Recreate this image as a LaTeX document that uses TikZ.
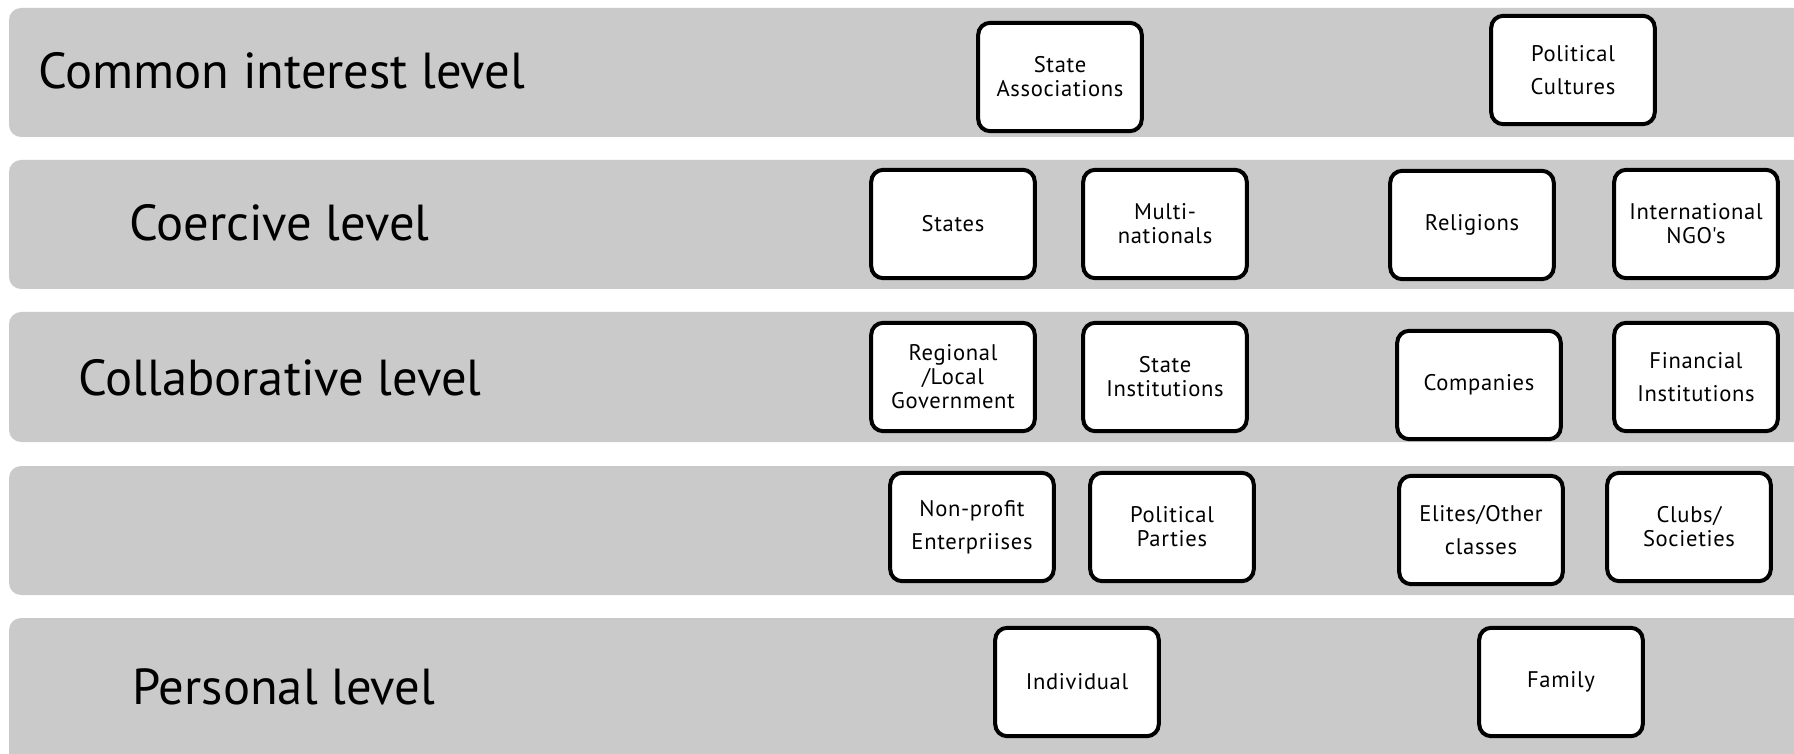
\documentclass[tikz,border=0pt]{standalone}
\usepackage{fontspec}
\setmainfont{PT Sans}
\newfontfamily\boxfont[LetterSpace=3]{PT Sans}
\definecolor{bandgray}{RGB}{202,202,202}
\begin{document}
\begin{tikzpicture}[x=0.5pt,y=-0.5pt,
  band/.style={fill=bandgray, rounded corners=6pt},
  item/.style={draw=black, line width=2pt, fill=white, rounded corners=6pt,
    minimum width=81.8pt, minimum height=54.2pt, align=center, inner sep=0pt,
    font=\boxfont\fontsize{11.3}{12}\selectfont},
  loose/.style={font=\boxfont\fontsize{11.3}{16.5}\selectfont},
  lvl/.style={anchor=base west, inner sep=0pt, font=\fontsize{25.3}{30}\selectfont}]
\useasboundingbox (0,0) rectangle (1794,754);
\clip (0,0) rectangle (1794,754);
% bands
\fill[band] (9,8) rectangle (1830,137);
\fill[band] (9,160) rectangle (1830,289);
\fill[band] (9,312) rectangle (1830,442);
\fill[band] (9,466) rectangle (1830,595);
\fill[band] (9,618) rectangle (1830,790);
% level labels
\node[lvl] (l1) at (38,89) {Common interest level};
\node[lvl] (l2) at (129,241) {Coercive level};
\node[lvl] (l3) at (78,395) {Collaborative level};
\node[lvl] (l5) at (132,704) {Personal level};
% boxes
\node[item] (sa) at (1060,77) {State\\Associations};
\node[item,loose] (pc) at (1573,70) {Political\\Cultures};
\node[item] (st) at (953,224) {States};
\node[item] (mn) at (1165,224) {Multi-\\nationals};
\node[item] (re) at (1472,225) {Religions};
\node[item] (ngo) at (1696,224) {International\\NGO's};
\node[item] (rg) at (953,377) {Regional\\/Local\\Government};
\node[item] (si) at (1165,377) {State\\Institutions};
\node[item] (co) at (1479,385) {Companies};
\node[item,loose] (fi) at (1696,377) {Financial\\Institutions};
\node[item,loose] (np) at (972,527) {Non-profit\\Enterpriises};
\node[item] (pp) at (1172,527) {Political\\Parties};
\node[item,loose] (el) at (1481,530) {Elites/Other\\classes};
\node[item] (cl) at (1689,527) {Clubs/\\Societies};
\node[item] (in) at (1077,682) {Individual};
\node[item] (fa) at (1561,682) {Family};
\end{tikzpicture}
\end{document}
